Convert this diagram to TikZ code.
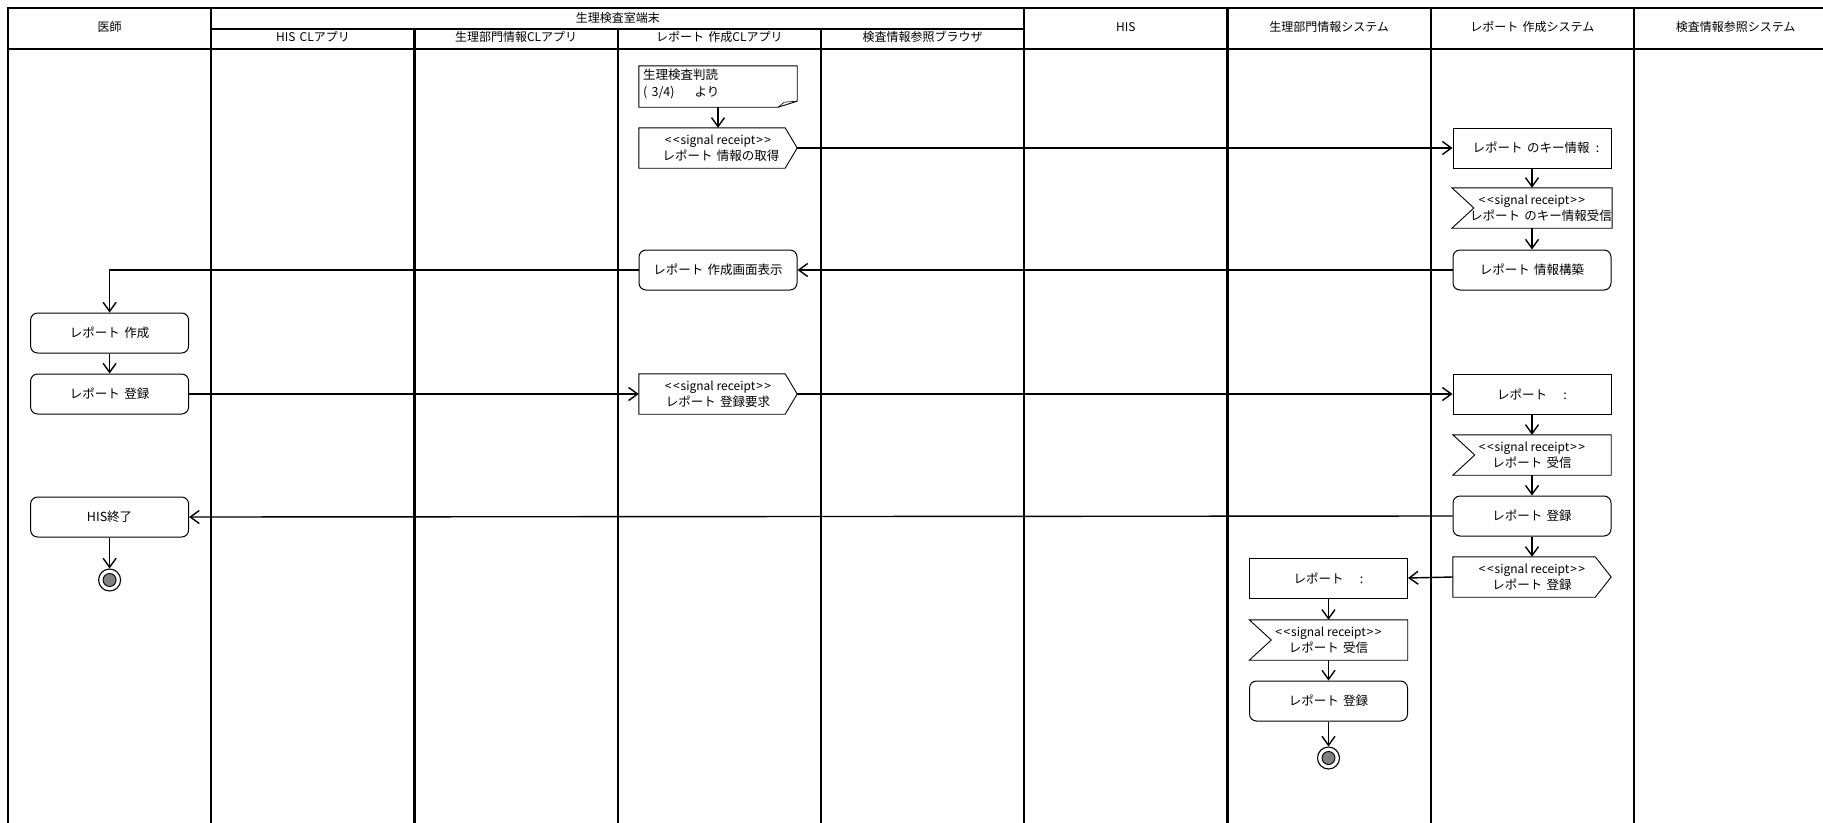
\documentclass[tikz,border=0pt]{standalone}
\usepackage{fontspec}
\setmainfont{Noto Sans CJK JP}
\usetikzlibrary{arrows.meta,calc}
\newcommand{\gp}{\hspace{0.35em}}
\newcommand{\sr}{{\fontsize{12}{14}\selectfont \textless\kern1.5pt\textless\kern1pt signal receipt\kern1pt\textgreater\kern1.5pt\textgreater}}
\tikzset{
  lane/.style={line width=2.2pt, line cap=rect},
  hdr/.style={font=\fontsize{12}{14}\selectfont, inner sep=0},
  shp/.style={minimum width=158pt, minimum height=40pt, inner sep=0, font=\fontsize{12.5}{16}\selectfont, align=center},
  act/.style={shp, draw, line width=1pt, rounded corners=7pt},
  objbox/.style={shp, draw, line width=0.9pt},
  outl/.style={line width=0.9pt},
  flow/.style={line width=1.4pt, -{Straight Barb[length=9pt,width=13pt]}},
  finalnode/.style={circle, draw, line width=1.1pt, minimum size=22pt, inner sep=0}
}
\newcommand{\sendoutline}[2]{\draw[outl] (#1.north west) -- ([xshift=-#2pt]#1.north east) -- (#1.east) -- ([xshift=-#2pt]#1.south east) -- (#1.south west) -- cycle;}
\newcommand{\recvoutline}[1]{\draw[outl] (#1.north west) -- (#1.north east) -- (#1.south east) -- (#1.south west) -- ([xshift=22pt]#1.west) -- cycle;}
\begin{document}
\begin{tikzpicture}[x=1pt,y=-1pt]
\useasboundingbox (0,0) rectangle (1823,822);
\clip (0,0) rectangle (1823,822);
% swimlanes
\draw[lane] (8,8) -- (1845,8);
\draw[lane] (8,49) -- (1845,49);
\draw[lane] (211.25,28.7) -- (1024.25,28.7);
\foreach \x in {8,211.25,1024.25,1227.5,1430.75,1634} \draw[lane] (\x,8) -- (\x,835);
\foreach \x in {414.5,617.75,821} \draw[lane] (\x,28.7) -- (\x,835);
% headers
\node[hdr] (h0) at (109.6,27) {医師};
\node[hdr] (hg) at (617.75,17.5) {生理検査室端末};
\node[hdr] (h1) at (312.9,37) {HIS\gp CLアプリ};
\node[hdr] (h2) at (516.1,37) {生理部門情報CLアプリ};
\node[hdr] (h3) at (719.4,37) {レポート\gp 作成CLアプリ};
\node[hdr] (h4) at (922.6,37) {検査情報参照ブラウザ};
\node[hdr] (h5) at (1125.9,27) {HIS};
\node[hdr] (h6) at (1329.1,27) {生理部門情報システム};
\node[hdr] (h7) at (1532.4,27) {レポート\gp 作成システム};
\node[hdr] (h8) at (1735.6,27) {検査情報参照システム};
% note
\node[minimum width=158pt, minimum height=41pt, inner sep=3pt, font=\fontsize{12.5}{17}\selectfont] (note) at (718,86.5)
  {\parbox[c][35pt][t]{150pt}{生理検査判読\\(\gp 3/4)\hspace{1.6em}より}};
\draw[outl] (note.north west) -- (note.north east) -- ([yshift=6pt]note.south east) -- ([xshift=-19pt]note.south east) -- (note.south west) -- cycle;
\draw[line width=0.6pt] ([xshift=-19pt]note.south east) -- ([xshift=-13pt,yshift=5pt]note.south east) -- ([yshift=6pt]note.south east);
% report client lane
\node[shp] (get) at (718,148) {\sr\\\hspace*{6pt}レポート\gp 情報の取得};
\sendoutline{get}{12}
\node[act] (disp) at (718,270) {レポート\gp 作成画面表示};
\node[shp] (regreq) at (718,394) {\sr\\レポート\gp 登録要求};
\sendoutline{regreq}{12}
% doctor lane
\node[act] (make) at (109.6,333) {レポート\gp 作成};
\node[act] (reg) at (109.6,394) {レポート\gp 登録};
\node[act] (hisend) at (109.6,517) {HIS終了};
\node[finalnode] (end0) at (109.6,580) {};
\draw[outl, fill=gray] (end0.center) circle (6.5pt);
% report system lane
\node[objbox] (key) at (1532,148) {\hspace*{8pt}レポート\gp のキー情報\hspace{0.5em}:};
\node[shp] (keyrecv) at (1532,208) {\sr\\\hspace*{18pt}レポート\gp のキー情報受信};
\recvoutline{keyrecv}
\node[act] (build) at (1532,270) {レポート\gp 情報構築};
\node[objbox] (rep7) at (1532,394) {レポート\hspace{1.3em}:};
\node[shp] (recv7) at (1532,455) {\sr\\レポート\gp 受信};
\recvoutline{recv7}
\node[act] (reg7) at (1532,516) {レポート\gp 登録};
\node[shp] (send7) at (1532,577) {\sr\\レポート\gp 登録};
\sendoutline{send7}{16}
% physiology system lane
\node[objbox] (rep6) at (1328.5,578) {レポート\hspace{1.3em}:};
\node[shp] (recv6) at (1328.5,640) {\sr\\レポート\gp 受信};
\recvoutline{recv6}
\node[act] (reg6) at (1328.5,701) {レポート\gp 登録};
\node[finalnode] (end6) at (1328.5,758) {};
\draw[outl, fill=gray] (end6.center) circle (6.5pt);
% flows
\draw[flow] (note.south) -- (get.north);
\draw[flow] (get.east) -- (key.west);
\draw[flow] (key.south) -- (keyrecv.north);
\draw[flow] (keyrecv.south) -- (build.north);
\draw[flow] (build.west) -- (disp.east);
\draw[flow] (disp.west) -| (make.north);
\draw[flow] (make.south) -- (reg.north);
\draw[flow] (reg.east) -- (regreq.west);
\draw[flow] (regreq.east) -- (rep7.west);
\draw[flow] (rep7.south) -- (recv7.north);
\draw[flow] (recv7.south) -- (reg7.north);
\draw[flow] (reg7.south) -- (send7.north);
\draw[flow] (reg7.west) -- (hisend.east);
\draw[flow] (hisend.south) -- (end0.north);
\draw[flow] (send7.west) -- (rep6.east);
\draw[flow] (rep6.south) -- (recv6.north);
\draw[flow] (recv6.south) -- (reg6.north);
\draw[flow] (reg6.south) -- (end6.north);
\end{tikzpicture}
\end{document}
